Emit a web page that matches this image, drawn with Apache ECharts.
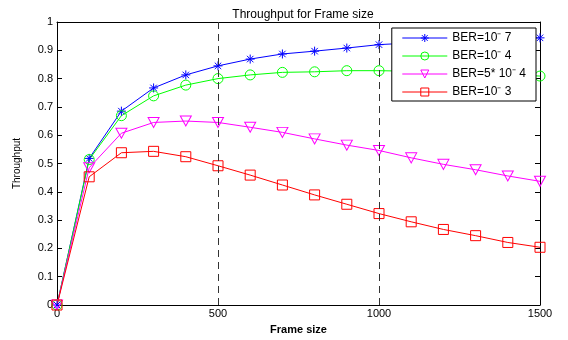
<!DOCTYPE html>
<html><head><meta charset="utf-8">
<script src="https://cdn.jsdelivr.net/npm/echarts@6/dist/echarts.min.js"></script>
<style>html,body{margin:0;padding:0;background:#fff}#c{width:568px;height:340px}</style>
</head><body><div id="c"></div>
<script>
const frameSizes = [0,100,200,300,400,500,600,700,800,900,1000,1100,1200,1300,1400,1500];
const ber1e7 = [0,0.518,0.685,0.767,0.813,0.845,0.869,0.887,0.897,0.908,0.920,0.926,0.931,0.936,0.940,0.944];
const ber1e4 = [0,0.514,0.669,0.739,0.777,0.800,0.813,0.822,0.824,0.828,0.828,0.826,0.823,0.819,0.814,0.809];
const ber5e4 = [0,0.485,0.607,0.645,0.650,0.645,0.628,0.610,0.587,0.565,0.546,0.520,0.497,0.478,0.456,0.437];
const ber1e3 = [0,0.453,0.538,0.543,0.524,0.492,0.459,0.424,0.389,0.356,0.323,0.294,0.267,0.245,0.221,0.204];
const seriesNames = ['BER=10\u207B 7','BER=10\u207B 4','BER=5* 10\u207B 4','BER=10\u207B 3'];
const dashedX = [500, 1000];

const font = 'Liberation Sans, Arial, sans-serif';
const pair = arr => frameSizes.map((x,i)=>[x,arr[i]]);
const star = 'path://M0,-5L0,5M-5,0L5,0M-3.6,-3.6L3.6,3.6M-3.6,3.6L3.6,-3.6';
const triDown = 'path://M-5,-4.5L5,-4.5L0,4.5Z';
function mk(name, data, color, symbol, size){
  return {name, type:'line', data:pair(data), symbol, symbolSize:size,
    lineStyle:{color, width:1}, itemStyle:{color:'rgba(0,0,0,0)', borderColor:color, borderWidth:1},
    emphasis:{disabled:true}, animation:false, z:3};
}
const s = [
  mk(seriesNames[0], ber1e7, '#0000ff', star, [9,9]),
  mk(seriesNames[1], ber1e4, '#00ff00', 'circle', 10),
  mk(seriesNames[2], ber5e4, '#ff00ff', triDown, [11,10]),
  mk(seriesNames[3], ber1e3, '#ff0000', 'rect', 10)
];
s[0].markLine = {silent:true, symbol:'none', label:{show:false},
  lineStyle:{color:'#333', type:[7,5], width:1}, data: dashedX.map(v=>({xAxis:v}))};

const chart = echarts.init(document.getElementById('c'));
const tickAx = {axisLine:{show:true, onZero:false, lineStyle:{color:'#000', width:1}}, axisTick:{show:true, inside:true, length:5, lineStyle:{color:'#000'}}, splitLine:{show:false}};
chart.setOption({
  animation:false,
  title:{text:'Throughput for Frame size', left:298, top:4, textAlign:'center', textStyle:{fontFamily:font, fontSize:12, fontWeight:'normal', color:'#000'}},
  grid:{left:57, right:28, top:22, bottom:31},
  legend:{right:32, top:28, orient:'vertical', backgroundColor:'#fff', borderColor:'#000', borderWidth:1, borderRadius:0,
    padding:[4,10,3,10], itemGap:6, itemWidth:45, itemHeight:10,
    lineStyle:{width:1}, itemStyle:{borderWidth:1},
    textStyle:{fontFamily:font, fontSize:12, color:'#000'}, data:seriesNames},
  xAxis:[{type:'value', min:0, max:1500, interval:500, ...tickAx,
      name:'Frame size', nameLocation:'middle', nameGap:19, nameTextStyle:{fontFamily:font, fontSize:11, fontWeight:'bold', color:'#000'},
      axisLabel:{fontFamily:font, fontSize:11, color:'#000', margin:3, formatter:v=>String(v)}},
    {type:'value', position:'top', min:0, max:1500, interval:500, ...tickAx, axisLabel:{show:false}}],
  yAxis:[{type:'value', min:0, max:1, interval:0.1, ...tickAx,
      name:'Throughput', nameLocation:'middle', nameGap:35, nameTextStyle:{fontFamily:font, fontSize:10, color:'#000'},
      axisLabel:{fontFamily:font, fontSize:11, color:'#000', margin:4}},
    {type:'value', position:'right', min:0, max:1, interval:0.1, ...tickAx, axisLabel:{show:false}}],
  series:s
});
</script></body></html>
